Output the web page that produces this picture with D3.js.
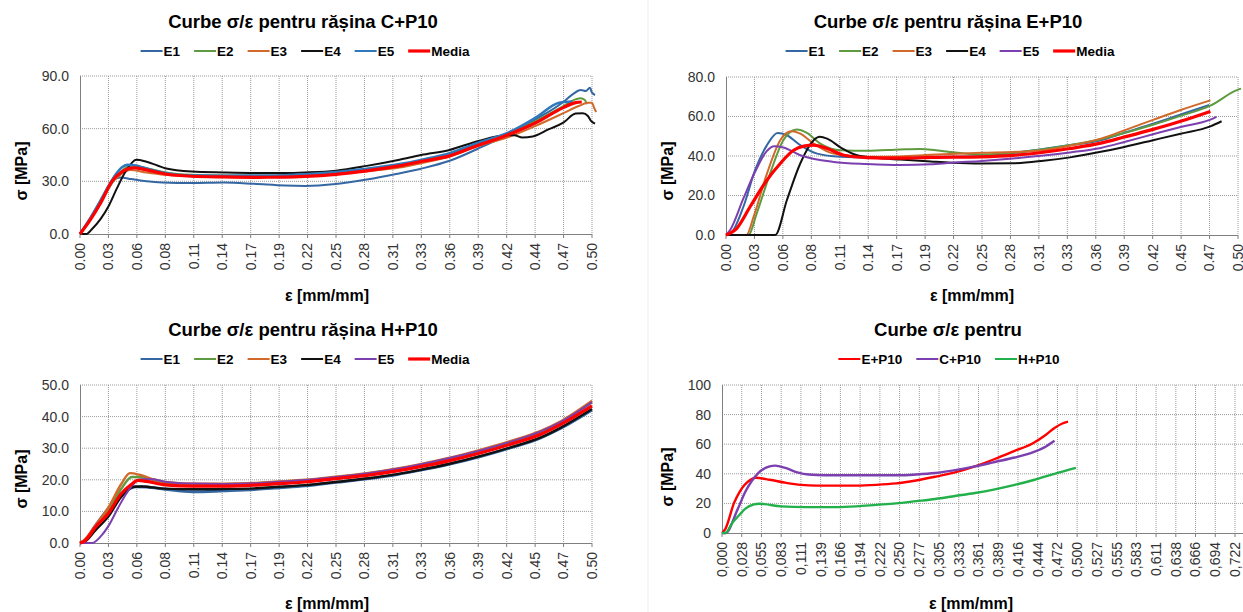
<!DOCTYPE html>
<html>
<head>
<meta charset="utf-8">
<script src="https://cdn.jsdelivr.net/npm/d3@7"></script>
<style>
  body { margin: 0; background: #fff; }
  svg { display: block; font-family: Arial, "Liberation Sans", sans-serif; }
</style>
</head>
<body>
<div id="wrapper"></div>
<script>
// ---- data: [strain, stress MPa] ----
const ticksA = ["0.00","0.03","0.06","0.08","0.11","0.14","0.17","0.19","0.22","0.25","0.28","0.31","0.33","0.36","0.39","0.42","0.44","0.47","0.50"];
const ticksB = ["0.00","0.03","0.06","0.08","0.11","0.14","0.17","0.19","0.22","0.25","0.28","0.31","0.33","0.36","0.39","0.42","0.45","0.47","0.50"];
const ticksC = ["0,000","0,028","0,055","0,083","0,111","0,139","0,166","0,194","0,222","0,250","0,277","0,305","0,333","0,361","0,389","0,416","0,444","0,472","0,500","0,527","0,555","0,583","0,611","0,638","0,666","0,694","0,722"];

const cE1 = [[0,0],[0.01,8],[0.02,18],[0.028,26],[0.035,31.5],[0.04,32.2],[0.05,31.3],[0.065,30],[0.08,29.3],[0.11,29],[0.14,29.3],[0.17,28.6],[0.2,27.6],[0.22,27.4],[0.25,28.5],[0.28,31],[0.31,34.3],[0.333,37.2],[0.361,41.7],[0.389,48.7],[0.417,56.3],[0.445,65.3],[0.472,75.2],[0.481,79.5],[0.489,82],[0.494,81.4],[0.498,83.3],[0.5,80.5],[0.503,79.2]];
const cE2 = [[0,0],[0.01,8.5],[0.02,18.5],[0.03,28],[0.04,35.5],[0.051,39],[0.065,37.5],[0.083,35.2],[0.109,33.7],[0.14,33.3],[0.17,33.2],[0.2,33.3],[0.22,33.6],[0.25,34.8],[0.28,36.8],[0.312,39.2],[0.333,41.5],[0.361,45.5],[0.389,51.7],[0.417,56.8],[0.445,64.4],[0.472,72.9],[0.484,76.7],[0.489,77.3],[0.493,76.3],[0.495,73.9]];
const cE3 = [[0,0],[0.01,9],[0.02,19],[0.03,28.5],[0.04,34],[0.049,36.5],[0.065,35],[0.083,33.7],[0.109,32.9],[0.14,32.5],[0.17,32.4],[0.2,32.5],[0.22,32.8],[0.25,34],[0.28,35.8],[0.312,37.9],[0.333,40.3],[0.361,44.1],[0.389,50.2],[0.417,54.9],[0.445,61.6],[0.472,68.8],[0.487,72.9],[0.496,74.8],[0.5,74.8],[0.502,72],[0.504,69.5]];
const cE4 = [[0,0],[0.006,0],[0.012,3],[0.02,8.5],[0.028,16],[0.036,26],[0.045,36],[0.055,42.3],[0.065,41.2],[0.083,37.5],[0.109,35.6],[0.14,35.1],[0.174,34.8],[0.2,34.8],[0.22,35.1],[0.25,36.1],[0.28,38.8],[0.312,42.3],[0.333,45],[0.361,47.9],[0.389,53],[0.417,56.3],[0.424,56.3],[0.432,55],[0.442,55.5],[0.458,59.7],[0.472,63.4],[0.484,68.6],[0.491,68.8],[0.496,67.2],[0.499,64.4],[0.503,62.9]];
const cE5 = [[0,0],[0.01,9],[0.02,19],[0.028,27.5],[0.035,34],[0.041,38],[0.046,39.4],[0.055,39],[0.061,38],[0.083,34.8],[0.109,33.3],[0.14,33.2],[0.174,33.3],[0.2,33.5],[0.22,34],[0.25,35.3],[0.28,37.2],[0.312,39.8],[0.333,42.2],[0.361,46],[0.389,52],[0.417,57.4],[0.445,66.3],[0.468,74.8],[0.481,75.5]];
const cMed = [[0,0],[0.01,8],[0.02,17.5],[0.0317,30.4],[0.04,35],[0.0527,37.7],[0.065,36.5],[0.083,34.2],[0.109,32.9],[0.14,32.5],[0.174,32.3],[0.2,32.4],[0.22,32.8],[0.25,34],[0.28,36],[0.312,38.8],[0.333,41.3],[0.361,44.5],[0.389,50.6],[0.417,56.3],[0.445,63.4],[0.472,72],[0.484,74.8],[0.49,75.2]];

const eE1 = [[0,0],[0.004,0.5],[0.017,14.3],[0.0284,32.8],[0.04,45.5],[0.0503,51.7],[0.0595,50.5],[0.0725,45.5],[0.089,41.2],[0.112,39.6],[0.138,39.2],[0.17,39.2],[0.2,39.5],[0.25,40],[0.28,41.5],[0.31,43.6],[0.333,45.3],[0.366,48],[0.389,51.8],[0.417,56.3],[0.444,61],[0.472,65.8]];
const eE2 = [[0,0],[0.022,0],[0.03,10.9],[0.043,31.1],[0.056,48],[0.069,53.4],[0.079,51.7],[0.092,46.3],[0.112,42.9],[0.138,42.6],[0.17,43.3],[0.19,43.6],[0.22,42],[0.25,40.7],[0.28,41.6],[0.31,43.4],[0.333,45.3],[0.366,48.5],[0.389,51.6],[0.417,55.8],[0.444,60.3],[0.473,65.5],[0.5,73.6],[0.503,74.1]];
const eE3 = [[0,0],[0.02,0],[0.027,9.3],[0.04,31.1],[0.053,48],[0.064,52.5],[0.0725,51.3],[0.0856,46.3],[0.105,41.2],[0.138,39.6],[0.17,39.8],[0.2,40.6],[0.25,41.6],[0.28,42],[0.31,42.9],[0.336,45.2],[0.366,48.8],[0.389,53],[0.417,58.3],[0.444,63.3],[0.473,68.2]];
const eE4 = [[0,0],[0.048,0],[0.0595,17.7],[0.0725,36.2],[0.0856,48],[0.0915,49.7],[0.0987,48.8],[0.112,44.3],[0.128,40.4],[0.148,39],[0.17,38.2],[0.2,37.2],[0.22,36.6],[0.25,36.2],[0.28,36.3],[0.31,37.6],[0.336,39.3],[0.366,42.1],[0.389,44.6],[0.417,48],[0.444,51.3],[0.473,55],[0.484,57.6]];
const eE5 = [[0,0],[0.004,2.5],[0.017,18.5],[0.0284,32],[0.04,42.6],[0.047,45],[0.056,44.3],[0.0725,40.4],[0.105,37],[0.138,35.9],[0.17,35.4],[0.2,35.8],[0.22,36.6],[0.25,37.5],[0.28,38.7],[0.31,40.2],[0.336,41.8],[0.366,44.1],[0.389,47.1],[0.417,51],[0.444,54.7],[0.473,58.4],[0.479,59.8]];
const eMed = [[0,0],[0.0105,3.4],[0.0235,14.3],[0.04,27.8],[0.053,36.2],[0.066,42.9],[0.076,45],[0.0856,45.5],[0.0987,43.8],[0.115,40.4],[0.138,39.2],[0.17,38.9],[0.2,39.3],[0.25,39.6],[0.28,40.3],[0.31,41.9],[0.336,43.8],[0.366,46.5],[0.389,49.6],[0.417,53.5],[0.444,57.6],[0.473,62.6]];

const hE1 = [[0,0],[0.004,0.5],[0.015,5.5],[0.028,11],[0.04,15.3],[0.0545,17.8],[0.065,17.7],[0.083,17],[0.11,16.2],[0.14,16.5],[0.17,16.9],[0.19,17.4],[0.22,18.1],[0.25,19.2],[0.28,20.3],[0.31,21.7],[0.33,22.9],[0.36,24.9],[0.39,27.3],[0.42,30.1],[0.45,33.3],[0.47,36.4],[0.5,42.1]];
const hE2 = [[0,0],[0.005,1],[0.015,5],[0.028,10.4],[0.04,17],[0.0507,20.9],[0.06,20.8],[0.083,19],[0.11,18.3],[0.14,18.6],[0.17,18.8],[0.19,19.2],[0.22,19.8],[0.25,20.8],[0.28,21.9],[0.31,23.4],[0.33,24.6],[0.36,26.6],[0.39,29.1],[0.42,31.9],[0.45,35.2],[0.47,38.2],[0.5,44.5]];
const hE3 = [[0,0],[0.005,1.2],[0.015,5.5],[0.028,11.4],[0.04,18.5],[0.0488,22.1],[0.058,21.6],[0.07,20.3],[0.083,19.3],[0.11,18.8],[0.14,18.8],[0.17,19],[0.19,19.4],[0.22,20],[0.25,21],[0.28,22.1],[0.31,23.6],[0.33,24.8],[0.36,26.9],[0.39,29.4],[0.42,32.2],[0.45,35.5],[0.47,38.6],[0.5,45]];
const hE4 = [[0,0],[0.005,0.5],[0.015,4],[0.028,8.5],[0.04,14.5],[0.0526,17.8],[0.06,17.9],[0.083,17.2],[0.11,17],[0.14,17.1],[0.17,17.3],[0.19,17.7],[0.22,18.3],[0.25,19.3],[0.28,20.4],[0.31,21.8],[0.33,23],[0.36,25],[0.39,27.4],[0.42,30.2],[0.45,33.4],[0.47,36.6],[0.5,42.4]];
const hE5 = [[0,0],[0.012,0],[0.02,2],[0.028,5.5],[0.037,11],[0.045,15.5],[0.053,19],[0.06,20.2],[0.07,20.2],[0.083,19.4],[0.11,18.8],[0.14,18.7],[0.17,18.9],[0.19,19.3],[0.22,19.9],[0.25,20.9],[0.28,22],[0.31,23.5],[0.33,24.7],[0.36,26.8],[0.39,29.2],[0.42,32],[0.45,35.3],[0.47,38.4],[0.5,44.6]];
const hMed = [[0,0],[0.004,0.5],[0.015,5],[0.028,9.5],[0.04,15.5],[0.05,18.5],[0.0564,19.8],[0.065,19.5],[0.083,18.4],[0.11,18],[0.14,18],[0.17,18.3],[0.19,18.7],[0.22,19.3],[0.25,20.4],[0.28,21.4],[0.31,22.8],[0.33,24],[0.36,26],[0.39,28.4],[0.42,31.2],[0.45,34.4],[0.47,37.6],[0.5,43.4]];

const sEP = [[0,0],[0.005,3],[0.0167,20],[0.025,28],[0.039,35.7],[0.047,37.3],[0.067,36],[0.089,34],[0.111,32.5],[0.134,32],[0.189,32],[0.217,32.5],[0.245,33.5],[0.273,35.5],[0.3,38],[0.328,41],[0.356,45],[0.384,50],[0.412,55.5],[0.437,60.5],[0.455,66],[0.468,71],[0.479,74],[0.487,75.3]];
const sCP = [[0,0],[0.005,0],[0.022,16],[0.033,28],[0.05,40],[0.067,45],[0.075,45.5],[0.089,44],[0.106,41],[0.122,39.5],[0.145,39],[0.2,39],[0.25,39],[0.273,39.5],[0.3,40.5],[0.328,42.5],[0.356,45],[0.384,48],[0.412,51],[0.44,55],[0.456,58.5],[0.468,62.3]];
const sHP = [[0,0],[0.005,0],[0.014,6.5],[0.025,12.5],[0.033,16.5],[0.045,19.3],[0.052,19.8],[0.06,19.5],[0.083,18],[0.117,17.5],[0.161,17.5],[0.189,18],[0.217,19],[0.245,20],[0.273,21.5],[0.3,23],[0.328,25],[0.356,27],[0.384,29.5],[0.412,32.5],[0.44,36],[0.468,40],[0.498,44]];

const colE1 = "#3568a3", colE2 = "#5e9a3f", colE3 = "#d0692a", colE4 = "#111111";
const colBlue5 = "#2f78bb", colPurple = "#7b3fb0", colRed = "#ff0000", colGreen = "#22b04b";

const panels = [
  { title: "Curbe σ/ε pentru rășina C+P10", x0: 80, x1: 592, xMax: 0.5, top: 76, bottom: 234, yMax: 90, yStep: 30, fmt: ".1f",
    ticks: ticksA, tickStep: 0.5 / 18, titleXY: [303, 28], legendXY: [305, 51], yTitleXY: [21, 171], xTitleXY: [327, 301],
    series: [
      { name: "E1", data: cE1, color: colE1, w: 2 },
      { name: "E2", data: cE2, color: colE2, w: 2 },
      { name: "E3", data: cE3, color: colE3, w: 2 },
      { name: "E4", data: cE4, color: colE4, w: 2 },
      { name: "E5", data: cE5, color: colBlue5, w: 2.6 },
      { name: "Media", data: cMed, color: colRed, w: 3.2 }
    ] },
  { title: "Curbe σ/ε pentru rășina E+P10", x0: 726, x1: 1238, xMax: 0.5, top: 77, bottom: 235, yMax: 80, yStep: 20, fmt: ".1f",
    ticks: ticksB, tickStep: 0.5 / 18, titleXY: [948, 28], legendXY: [950, 51], yTitleXY: [667, 171], xTitleXY: [972, 301],
    series: [
      { name: "E1", data: eE1, color: colE1, w: 2 },
      { name: "E2", data: eE2, color: colE2, w: 2 },
      { name: "E3", data: eE3, color: colE3, w: 2 },
      { name: "E4", data: eE4, color: colE4, w: 2 },
      { name: "E5", data: eE5, color: colPurple, w: 2 },
      { name: "Media", data: eMed, color: colRed, w: 3.2 }
    ] },
  { title: "Curbe σ/ε pentru rășina H+P10", x0: 80, x1: 592, xMax: 0.5, top: 385, bottom: 543, yMax: 50, yStep: 10, fmt: ".1f",
    ticks: ticksB, tickStep: 0.5 / 18, titleXY: [303, 336], legendXY: [305, 359], yTitleXY: [21, 479], xTitleXY: [327, 609],
    series: [
      { name: "E1", data: hE1, color: colE1, w: 3 },
      { name: "E2", data: hE2, color: colE2, w: 2.4 },
      { name: "E3", data: hE3, color: colE3, w: 2.4 },
      { name: "E4", data: hE4, color: colE4, w: 2.4 },
      { name: "E5", data: hE5, color: colPurple, w: 2 },
      { name: "Media", data: hMed, color: colRed, w: 3.2 }
    ] },
  { title: "Curbe σ/ε pentru", x0: 722, x1: 1235, xMax: 0.722, top: 385, bottom: 533, yMax: 100, yStep: 20, fmt: "d",
    ticks: ticksC, tickStep: 0.722 / 26, extendTo: 1260, titleXY: [948, 336], legendXY: [949, 359], yTitleXY: [667, 477], xTitleXY: [971, 609],
    series: [
      { name: "E+P10", data: sEP, color: colRed, w: 2.4 },
      { name: "C+P10", data: sCP, color: colPurple, w: 2.4 },
      { name: "H+P10", data: sHP, color: colGreen, w: 2.4 }
    ] }
];

const svg = d3.select("#wrapper")
  .append("svg")
  .attr("width", 1243)
  .attr("height", 612);

// faint border of the right chart objects
svg.append("line")
  .attr("x1", 648).attr("x2", 648).attr("y1", 0).attr("y2", 612)
  .attr("stroke", "#ececec");

panels.forEach(p => drawPanel(p));

function drawPanel(p) {
  const g = svg.append("g");
  const xScale = d3.scaleLinear().domain([0, p.xMax]).range([p.x0, p.x1]);
  const yScale = d3.scaleLinear().domain([0, p.yMax]).range([p.bottom, p.top]);
  const right = p.extendTo || p.x1;

  // horizontal grid
  const yTicks = d3.range(0, p.yMax + 0.001, p.yStep);
  g.append("g").selectAll("line")
    .data(yTicks.filter(v => v > 0))
    .enter().append("line")
    .attr("x1", p.x0).attr("x2", right)
    .attr("y1", d => yScale(d)).attr("y2", d => yScale(d))
    .attr("stroke", "#9a9a9a")
    .attr("stroke-dasharray", "1,1");

  // vertical grid at category ticks
  const xTickVals = p.ticks.map((t, i) => i * p.tickStep);
  g.append("g").selectAll("line")
    .data(xTickVals.slice(1))
    .enter().append("line")
    .attr("x1", d => xScale(d)).attr("x2", d => xScale(d))
    .attr("y1", p.top).attr("y2", p.bottom)
    .attr("stroke", "#9a9a9a")
    .attr("stroke-dasharray", "1,1");

  // axis lines + ticks
  g.append("line")
    .attr("x1", p.x0 + 0.5).attr("x2", p.x0 + 0.5)
    .attr("y1", p.top).attr("y2", p.bottom)
    .attr("stroke", "#7f7f7f");
  g.append("line")
    .attr("x1", p.x0).attr("x2", right)
    .attr("y1", p.bottom + 0.5).attr("y2", p.bottom + 0.5)
    .attr("stroke", "#7f7f7f");
  g.append("g").selectAll("line")
    .data(xTickVals)
    .enter().append("line")
    .attr("x1", d => xScale(d)).attr("x2", d => xScale(d))
    .attr("y1", p.bottom).attr("y2", p.bottom + 4)
    .attr("stroke", "#7f7f7f");

  // y tick labels
  g.append("g").selectAll("text")
    .data(yTicks)
    .enter().append("text")
    .attr("x", p.x0 - 11)
    .attr("y", d => yScale(d))
    .attr("dy", "0.35em")
    .attr("text-anchor", "end")
    .attr("fill", "#333")
    .style("font-size", "14px")
    .text(d => d3.format(p.fmt)(d));

  // x tick labels, rotated
  g.append("g").selectAll("text")
    .data(p.ticks)
    .enter().append("text")
    .attr("transform", (d, i) => `translate(${xScale(i * p.tickStep)},${p.bottom + 9}) rotate(-90)`)
    .attr("dy", "0.35em")
    .attr("text-anchor", "end")
    .attr("fill", "#333")
    .style("font-size", "14px")
    .text(d => d);

  // series
  const line = d3.line()
    .x(d => xScale(d[0]))
    .y(d => yScale(d[1]))
    .curve(d3.curveMonotoneX);
  g.append("g").selectAll("path")
    .data(p.series)
    .enter().append("path")
    .attr("d", d => line(d.data))
    .attr("fill", "none")
    .attr("stroke", d => d.color)
    .attr("stroke-width", d => d.w)
    .attr("stroke-linejoin", "round");

  // titles
  g.append("text")
    .attr("x", p.titleXY[0]).attr("y", p.titleXY[1])
    .attr("text-anchor", "middle")
    .style("font-size", "18.5px").style("font-weight", "bold")
    .text(p.title);
  g.append("text")
    .attr("x", p.xTitleXY[0]).attr("y", p.xTitleXY[1])
    .attr("text-anchor", "middle")
    .style("font-size", "16px").style("font-weight", "bold")
    .text("ε [mm/mm]");
  g.append("text")
    .attr("transform", `translate(${p.yTitleXY[0]},${p.yTitleXY[1]}) rotate(-90)`)
    .attr("dy", "0.35em")
    .attr("text-anchor", "middle")
    .style("font-size", "16px").style("font-weight", "bold")
    .text("σ [MPa]");

  // legend
  const lg = g.append("g");
  let cx = 0;
  p.series.forEach(s => {
    const item = lg.append("g").attr("transform", `translate(${cx},0)`);
    item.append("line")
      .attr("x1", 0).attr("x2", 22).attr("y1", 0).attr("y2", 0)
      .attr("stroke", s.color)
      .attr("stroke-width", s.name === "Media" ? 3.2 : 2);
    const t = item.append("text")
      .attr("x", 23).attr("dy", "0.35em")
      .style("font-size", "13.5px").style("font-weight", "bold")
      .text(s.name);
    cx += 23 + t.node().getComputedTextLength() + 14;
  });
  const total = cx - 14;
  lg.attr("transform", `translate(${p.legendXY[0] - total / 2},${p.legendXY[1]})`);
}
</script>
</body>
</html>
